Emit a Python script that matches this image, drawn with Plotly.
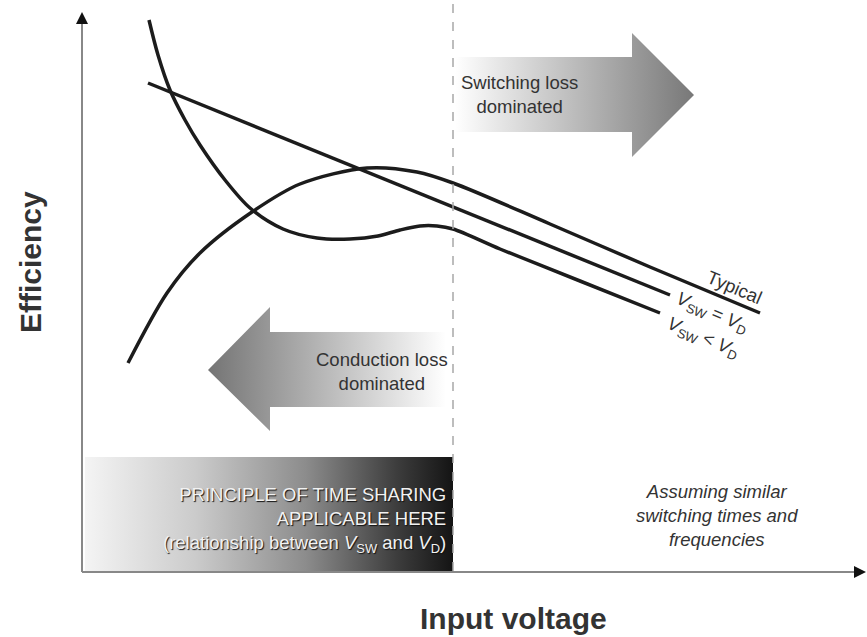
import plotly.graph_objects as go

W, H = 867, 637

# curve points, canvas units (x right, y down)
typical_x = [128, 167, 200, 252, 300, 367, 417, 453, 550, 650, 760]
typical_y = [363, 293, 253, 212, 184, 168, 172, 183, 224, 267, 313]

vsw_eq_x = [148, 670]
vsw_eq_y = [83, 295]

vsw_lt_x = [149, 158, 170, 185, 200, 225, 250, 283, 317, 350, 378, 400, 420, 437, 453, 500, 580, 660]
vsw_lt_y = [20, 55, 90, 120, 145, 180, 208, 229, 238, 239, 236, 230, 226, 226, 229, 249, 281, 313]

# arrow outlines
right_arrow_x = [455, 632, 632, 694, 632, 632, 455, 455]
right_arrow_y = [57, 57, 33, 95, 157, 132, 132, 57]
left_arrow_x = [446, 270, 270, 208, 270, 270, 446, 446]
left_arrow_y = [332, 332, 307, 370, 431, 407, 407, 332]

# shaded "time sharing" block
box_x = [85, 453, 453, 85, 85]
box_y = [457, 457, 572, 572, 457]

split_x = 453
axis_y = 572
axis_x = 82

fig = go.Figure()

fig.add_trace(go.Scatter(
    x=box_x, y=box_y, mode="lines", fill="toself", line=dict(width=0),
    fillgradient=dict(type="horizontal",
                      colorscale=[[0, "#f4f4f4"], [0.3, "#cbcbcb"], [0.6, "#8c8c8c"],
                                  [0.85, "#3c3c3c"], [1, "#141414"]]),
    hoverinfo="skip"))

fig.add_trace(go.Scatter(
    x=right_arrow_x, y=right_arrow_y, mode="lines", fill="toself", line=dict(width=0),
    fillgradient=dict(type="horizontal", colorscale=[[0, "#ffffff"], [1, "#787878"]]),
    hoverinfo="skip"))

fig.add_trace(go.Scatter(
    x=left_arrow_x, y=left_arrow_y, mode="lines", fill="toself", line=dict(width=0),
    fillgradient=dict(type="horizontal", colorscale=[[0, "#747474"], [1, "#ffffff"]]),
    hoverinfo="skip"))

for xs, ys in [(typical_x, typical_y), (vsw_eq_x, vsw_eq_y), (vsw_lt_x, vsw_lt_y)]:
    fig.add_trace(go.Scatter(
        x=xs, y=ys, mode="lines",
        line=dict(color="#1c1c1c", width=3.5, shape="spline", smoothing=0.9),
        hoverinfo="skip"))

# dashed divider + axes
fig.add_shape(type="line", x0=split_x, x1=split_x, y0=4, y1=axis_y,
              line=dict(color="#a8a8a8", width=1.5, dash="dash"))
fig.add_shape(type="line", x0=axis_x, x1=axis_x, y0=axis_y, y1=20,
              line=dict(color="#888888", width=2))
fig.add_shape(type="line", x0=axis_x, x1=858, y0=axis_y, y1=axis_y,
              line=dict(color="#888888", width=2))
fig.add_annotation(x=axis_x, y=12, ax=axis_x, ay=24, axref="x", ayref="y", text="",
                   showarrow=True, arrowhead=2, arrowsize=1.2, arrowwidth=2, arrowcolor="#111")
fig.add_annotation(x=866, y=axis_y, ax=854, ay=axis_y, axref="x", ayref="y", text="",
                   showarrow=True, arrowhead=2, arrowsize=1.2, arrowwidth=2, arrowcolor="#111")

txt = dict(family="Liberation Sans, Arial", size=18.5, color="#333333")

fig.add_annotation(x=519, y=94, text="Switching loss<br>dominated", showarrow=False,
                   font=txt, align="center")
fig.add_annotation(x=382, y=371, text="Conduction loss<br>dominated", showarrow=False,
                   font=txt, align="center")
fig.add_annotation(x=717, y=515,
                   text="<i>Assuming similar<br>switching times and<br>frequencies</i>",
                   showarrow=False, font=txt, align="center")
fig.add_annotation(x=448, y=520, xanchor="right",
                   text="PRINCIPLE OF TIME SHARING<br>APPLICABLE HERE<br>"
                        "(relationship between <i>V</i><sub>SW</sub> and <i>V</i><sub>D</sub>)",
                   showarrow=False, align="right",
                   font=dict(family="Liberation Sans, Arial", size=18.5, color="#f2f2f2",
                             shadow="1px 1px 1px #111"))

fig.add_annotation(x=735, y=287, text="Typical", textangle=23, showarrow=False, font=txt)
fig.add_annotation(x=712, y=313, text="<i>V</i><sub>SW</sub> = <i>V</i><sub>D</sub>",
                   textangle=23, showarrow=False, font=txt)
fig.add_annotation(x=703, y=338, text="<i>V</i><sub>SW</sub> &lt; <i>V</i><sub>D</sub>",
                   textangle=23, showarrow=False, font=txt)

bold = dict(family="Liberation Sans, Arial", size=30, color="#333333")
fig.add_annotation(x=30, y=262, text="<b>Efficiency</b>", textangle=-90, showarrow=False, font=bold)
fig.add_annotation(x=513, y=618, text="<b>Input voltage</b>", showarrow=False, font=bold)

fig.update_layout(
    width=W, height=H, margin=dict(l=0, r=0, t=0, b=0),
    paper_bgcolor="white", plot_bgcolor="white", showlegend=False,
    xaxis=dict(range=[0, W], visible=False, fixedrange=True),
    yaxis=dict(range=[H, 0], visible=False, fixedrange=True),
)

# page body has a default 8px margin; drop it so the figure sits at the corner
fig.write_html("out.html", config={"displayModeBar": False},
               post_script="document.body.style.margin='0';document.body.style.overflow='hidden';")
